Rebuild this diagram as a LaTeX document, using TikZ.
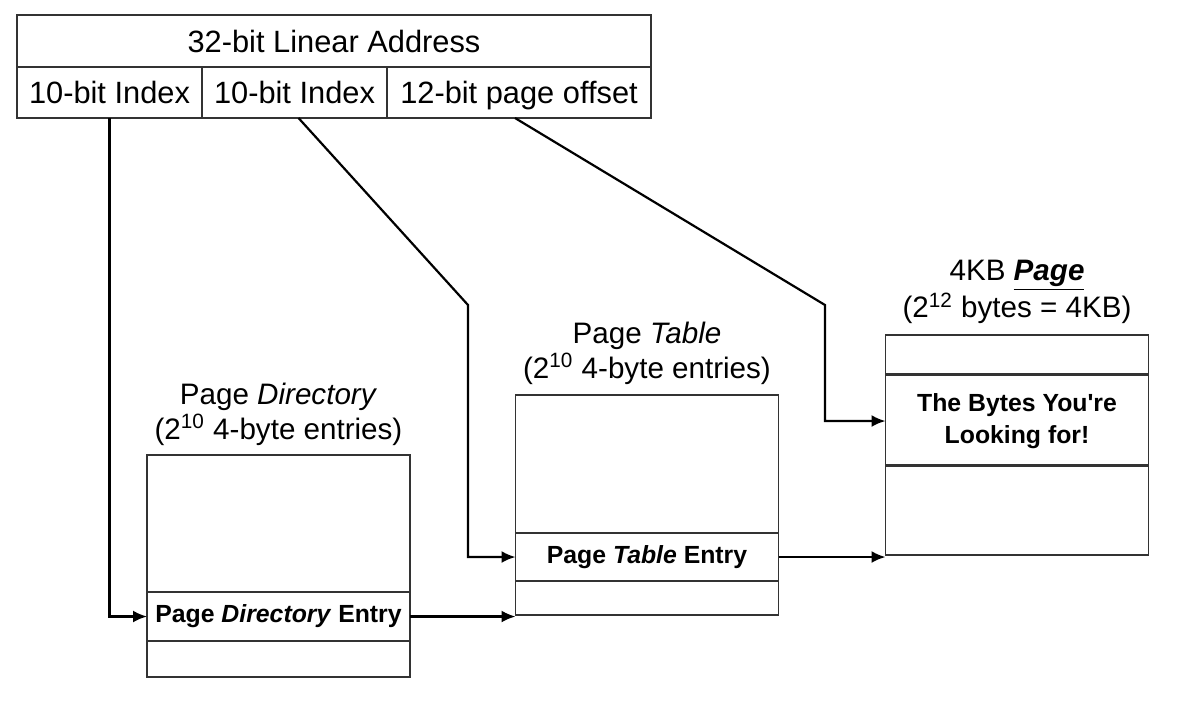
\documentclass[tikz,border=0pt]{standalone}
\usepackage{fontspec}
\setmainfont{Liberation Sans}[Ligatures=TeXOff]
\usetikzlibrary{arrows.meta}

\begin{document}
\begin{tikzpicture}[x=0.5pt,y=-0.5pt]
	% Define styles
	\tikzset{cell/.style={draw=black!80, line width=0.75pt, minimum width=131.5pt, inner sep=0pt, outer sep=0pt, font=\fontsize{12.4}{16}\selectfont\bfseries, align=center},
		addr/.style={draw=black!80, line width=0.75pt, minimum height=25.5pt, inner sep=0pt, outer sep=0pt, text height=13pt, text depth=2pt, font=\fontsize{15.4}{18}\selectfont},
		title/.style={font=\fontsize{14.8}{17.5}\selectfont, align=center},
		link/.style={line width=1.1pt, -{Latex[length=7pt,width=6pt]}}}
	\useasboundingbox (0,0) rectangle (1178,703);
	
	% Linear address
	\node[addr, minimum width=317pt, minimum height=26pt] (hdr) at (334,41) {32-bit Linear Address};
	\node[addr, minimum width=92.5pt] (idx1) at (109.5,92.5) {10-bit Index};
	\node[addr, minimum width=92.5pt] (idx2) at (294.5,92.5) {10-bit Index};
	\node[addr, minimum width=132pt] (offs) at (519,92.5) {12-bit page offset};
	
	% Page directory
	\node[cell, minimum height=68.5pt] (pdtop) at (278.5,523.5) {};
	\node[cell, minimum height=24.5pt] (pde) at (278.5,616.5) {Page \textit{Directory} Entry};
	\node[cell, minimum height=18pt] (pdbot) at (278.5,659) {};
	\node[title] (pdlbl) at (278.5,414) {Page \textit{Directory}\\(2\textsuperscript{10} 4-byte entries)};
	
	% Page table
	\node[cell, minimum height=69pt] (pttop) at (647,464) {};
	\node[cell, minimum height=24pt] (pte) at (647,557) {Page \textit{Table} Entry};
	\node[cell, minimum height=17pt] (ptbot) at (647,598) {};
	\node[title] (ptlbl) at (647,353) {Page \textit{Table}\\(2\textsuperscript{10} 4-byte entries)};
	
	% 4KB page
	\node[cell, minimum height=19.5pt] (pgtop) at (1017,354.5) {};
	\node[cell, minimum height=45.5pt] (pgdata) at (1017,421) {The Bytes You're\\Looking for!};
	\node[cell, minimum height=45pt] (pgbot) at (1017,510) {};
	\node[title] (pglbl) at (1017,292) {4KB \underline{\textbf{\textit{Page}}}\\(2\textsuperscript{12} bytes = 4KB)};
	
	% Connectors
	\coordinate (bend2) at (468,305);
	\coordinate (bend3) at (825,305);
	\draw[link] (idx1.south) |- (pde.west);
	\draw[link] ([xshift=2pt]idx2.south) -- (bend2) |- (pte.west);
	\draw[link] ([xshift=-2pt]offs.south) -- (bend3) |- (pgdata.west);
	\draw[link] (pde.east) -- (pde.east -| pttop.west);
	\draw[link] (pte.east) -- (pte.east -| pgtop.west);
\end{tikzpicture}
\end{document}
